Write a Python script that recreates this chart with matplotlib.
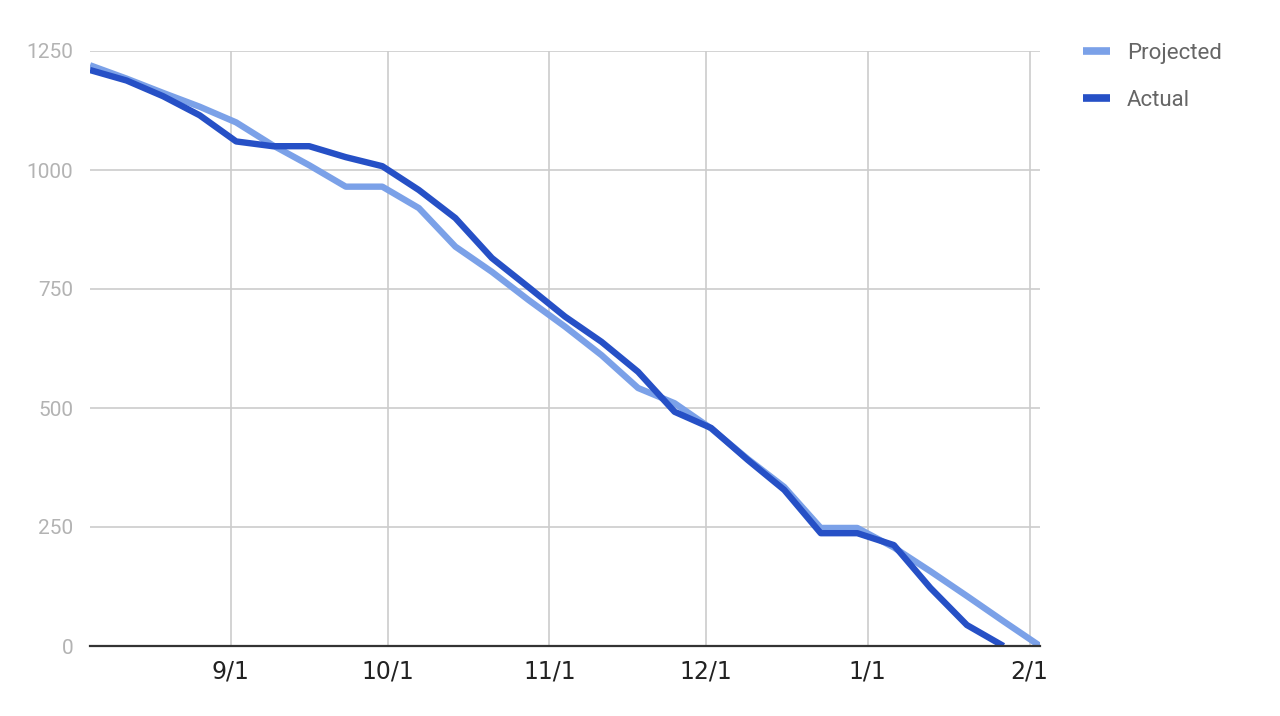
import matplotlib
matplotlib.use('Agg')
import matplotlib.pyplot as plt
import matplotlib.dates as mdates
import numpy as np
import datetime as dt

# weekly points, Aug 5 -> Feb 3
start = dt.date(2018, 8, 5)
dates = [start + dt.timedelta(days=7 * i) for i in range(27)]

projected = [1220, 1192, 1162, 1133, 1100, 1052, 1010, 965, 965, 920,
             839, 786, 727, 671, 611, 542, 510, 457, 393, 334,
             248, 248, 207, 157, 105, 52, 0]
actual = [1210, 1188, 1155, 1115, 1060, 1050, 1050, 1027, 1008, 958,
          899, 815, 754, 692, 639, 576, 492, 458, 391, 328,
          237, 237, 212, 122, 44, 0]

xticks = [dt.date(2018, 9, 1), dt.date(2018, 10, 1), dt.date(2018, 11, 1),
          dt.date(2018, 12, 1), dt.date(2019, 1, 1), dt.date(2019, 2, 1)]
xtick_labels = ['9/1', '10/1', '11/1', '12/1', '1/1', '2/1']
yticks = [0, 250, 500, 750, 1000, 1250]

plt.rcParams['font.family'] = ['Roboto', 'DejaVu Sans']

fig = plt.figure(figsize=(12.8, 7.16), dpi=100)
ax = fig.add_axes([90 / 1280, 70 / 716, 950 / 1280, 595 / 716])

ax.plot(dates, projected, color='#7ba1e8', lw=4.6, solid_joinstyle='round',
        solid_capstyle='butt', label='Projected', zorder=3)
ax.plot(dates[:len(actual)], actual, color='#2650c6', lw=4.6,
        solid_joinstyle='round', solid_capstyle='butt', label='Actual', zorder=4)

ax.set_xlim(dates[0], dates[-1])
ax.set_ylim(0, 1250)

ax.set_xticks(xticks)
ax.set_xticklabels(xtick_labels, family=['Liberation Sans Narrow', 'DejaVu Sans'],
                   fontsize=17, color='#222222')
ax.set_yticks(yticks)
ax.set_yticklabels([str(v) for v in yticks], fontsize=15, color='#b3b3b3')
ax.tick_params(axis='both', length=0)
ax.tick_params(axis='y', pad=12)
ax.tick_params(axis='x', pad=10)

ax.grid(True, color='#cccccc', lw=1.2, zorder=0)
for s in ['top', 'right', 'left']:
    ax.spines[s].set_visible(False)
ax.spines['bottom'].set_color('#333333')
ax.spines['bottom'].set_linewidth(1.6)
ax.spines['bottom'].set_zorder(5)

leg = fig.legend(loc='upper left', bbox_to_anchor=(1063 / 1280, 693 / 716),
                 frameon=False, fontsize=16, handlelength=1.23,
                 handletextpad=0.75, labelspacing=1.15)
for t in leg.get_texts():
    t.set_color('#666666')
for h in leg.get_lines():
    h.set_linewidth(5.5)

fig.savefig('out.png', dpi=100)
